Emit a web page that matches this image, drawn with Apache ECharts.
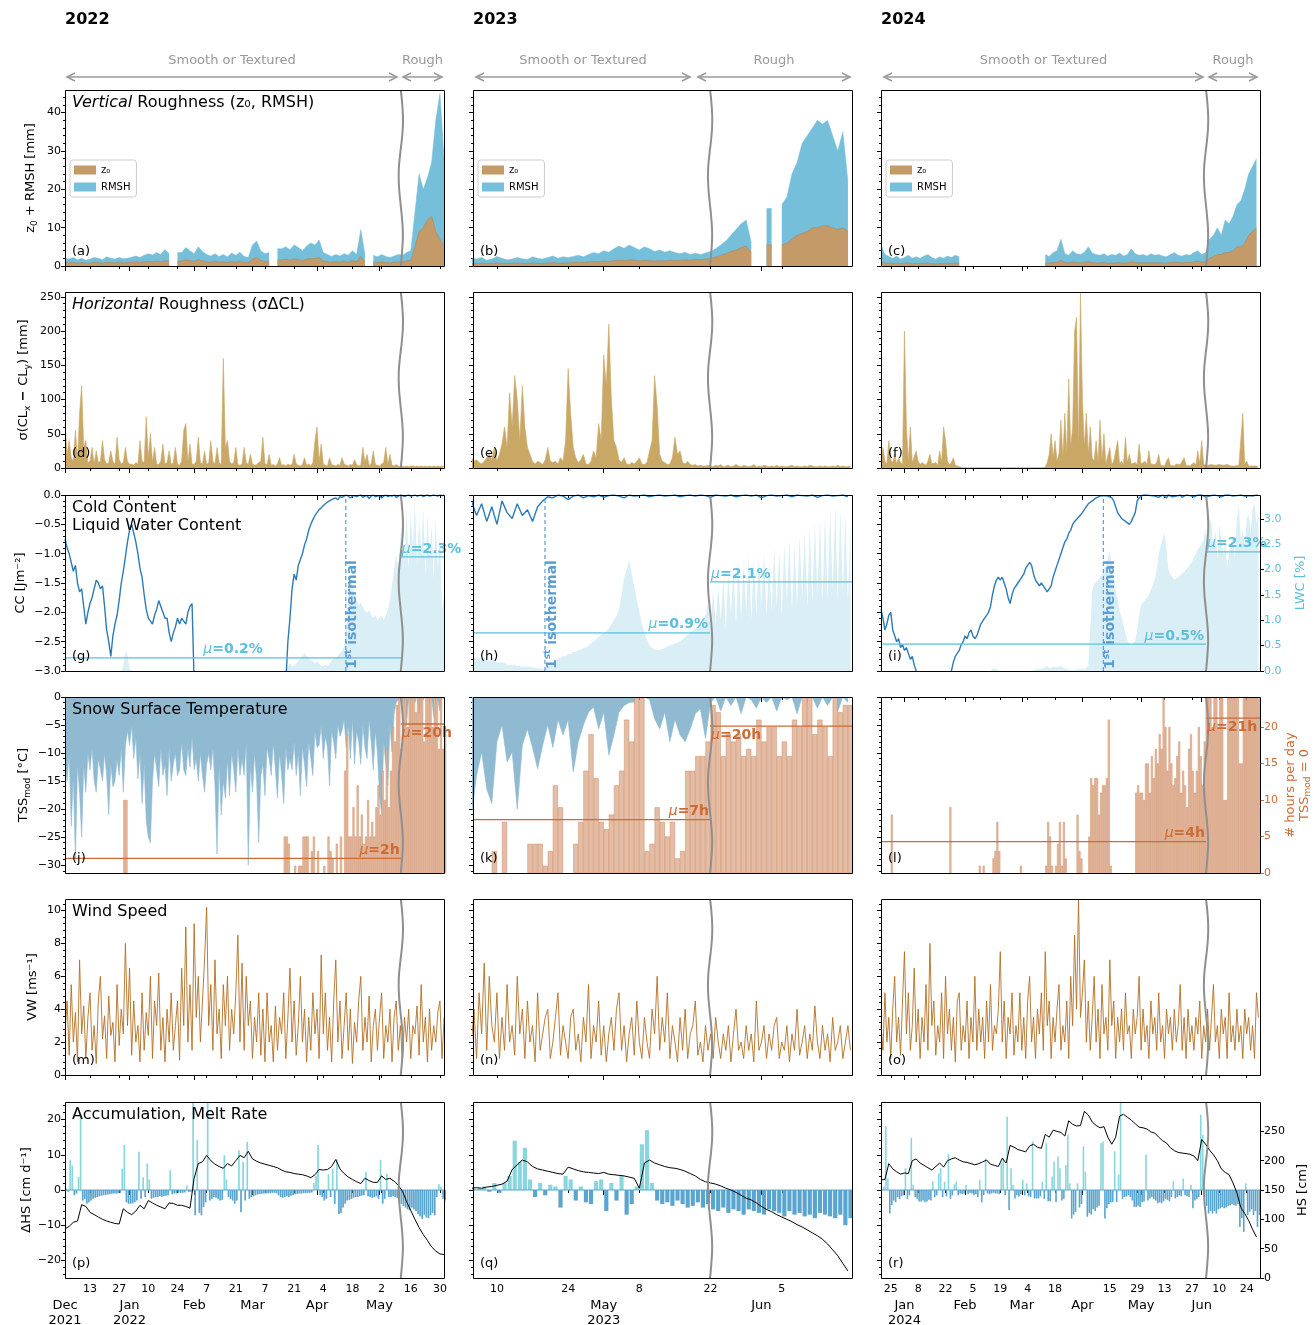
<!DOCTYPE html>
<html><head><meta charset="utf-8">
<script src="https://cdn.jsdelivr.net/npm/echarts@6/dist/echarts.min.js"></script>
<style>html,body{margin:0;padding:0;background:#fff}#c{width:1314px;height:1325px}</style>
</head><body><div id="c"></div>
<script>
// ================= DATA =================
// ---- time axes (day offsets from base dates) ----
const base1='2021-12-01', base2='2023-04-05', base3='2023-12-20';
const dayTicks1=['2021-12-13','2021-12-27','2022-01-10','2022-01-24','2022-02-07','2022-02-21','2022-03-07','2022-03-21','2022-04-04','2022-04-18','2022-05-02','2022-05-16','2022-05-30'];
const monthTicks1=['2021-12-01','2022-01-01','2022-02-01','2022-03-01','2022-04-01','2022-05-01'];
const monthLabels1=['Dec\n2021','Jan\n2022','Feb','Mar','Apr','May'];
const dayTicks2=['2023-04-10','2023-04-24','2023-05-08','2023-05-22','2023-06-05'];
const monthTicks2=['2023-05-01','2023-06-01'];
const monthLabels2=['May\n2023','Jun'];
const dayTicks3=['2023-12-25','2024-01-08','2024-01-22','2024-02-05','2024-02-19','2024-03-04','2024-03-18','2024-04-15','2024-04-29','2024-05-13','2024-05-27','2024-06-10','2024-06-24'];
const monthTicks3=['2024-01-01','2024-02-01','2024-03-01','2024-04-01','2024-05-01','2024-06-01'];
const monthLabels3=['Jan\n2024','Feb','Mar','Apr','May','Jun'];
const regimeDay=[161.2,46.9,166.2];      // Smooth/Textured -> Rough
const isothermDay=[134.8,14.45,113.7];   // 1st isothermal
const yearLabels=['2022','2023','2024'];

// ---- y tick labels ----
const yTicksRough=[0,10,20,30,40];
const yTicksHoriz=[0,50,100,150,200,250];
const yTicksCC=[-3,-2.5,-2,-1.5,-1,-0.5,0];
const yTicksLWC=[0,0.5,1,1.5,2,2.5,3];
const yTicksTSS=[-30,-25,-20,-15,-10,-5,0];
const yTicksHrs=[0,5,10,15,20];
const yTicksVW=[0,2,4,6,8,10];
const yTicksDHS=[-20,-10,0,10,20];
const yTicksHS=[0,50,100,150,200,250];

// ---- 2022 (col 1) ----
const total1=[2.0,1.8,2.2,1.6,2.0,1.5,1.8,2.2,2.0,1.6,2.4,2.0,1.8,2.2,1.9,2.0,2.3,2.6,2.2,2.8,3.2,2.9,3.5,3.0,4.3,3.2,null,3.5,3.5,4.8,4.0,3.2,5.0,3.8,3.0,2.6,3.2,2.5,3.0,2.4,3.4,2.8,3.6,2.5,2.2,5.5,6.5,4.0,3.2,3.5,null,4.5,4.5,5.0,4.2,5.5,4.8,4.0,5.2,6.0,5.5,6.8,3.5,3.0,2.5,3.0,2.6,3.2,2.8,4.0,3.0,9.5,3.0,null,2.8,2.4,3.0,2.5,2.2,2.6,3.0,2.8,3.5,4,14,24,20,23,27,38,45,28];
const z0_1=[0.9,0.8,1.0,0.7,0.9,0.7,0.8,1.0,0.9,0.7,1.0,0.9,0.8,1.0,0.8,0.9,1.0,1.1,0.9,1.1,1.2,1.1,1.3,1.1,1.4,1.2,null,1.2,1.3,1.6,1.4,1.2,1.7,1.4,1.1,1.0,1.2,1.0,1.1,0.9,1.2,1.0,1.3,1.0,0.9,1.8,2.2,1.5,1.2,1.3,null,1.5,1.6,1.8,1.5,1.9,1.7,1.4,1.8,2.0,1.9,2.2,1.3,1.1,1.0,1.1,1.0,1.2,1.0,1.4,1.1,2.5,1.1,null,1.0,0.9,1.1,0.9,0.8,1.0,1.1,1.0,1.3,1.5,5,9,10,12,13,9,7,5];
const sig1=[65,20,40,15,10,55,12,80,120,30,40,8,10,30,6,25,8,10,40,12,6,8,25,10,5,45,12,6,8,30,10,5,6,4,8,6,40,10,8,75,15,50,8,30,6,5,10,35,6,8,25,5,8,30,6,4,10,55,65,8,35,6,5,10,45,8,6,25,5,8,40,10,6,30,8,5,160,30,40,10,6,8,30,5,4,6,30,8,5,20,6,4,5,8,10,45,6,5,20,4,5,3,6,15,4,5,3,6,4,5,20,6,4,3,5,15,4,6,3,8,40,60,10,35,6,4,3,15,5,4,3,5,4,15,6,4,3,5,4,12,5,3,4,30,8,20,4,6,25,5,4,3,6,8,30,5,20,4,3,5,3,2,3,2,3,2,3,3,2,3,2,3,2,3,2,3,2,3,2,3,2,3,2];
const cc1=[-0.75,-0.9,-1.0,-1.15,-1.3,-1.2,-1.5,-1.65,-1.6,-1.9,-2.2,-2.0,-1.85,-1.75,-1.6,-1.45,-1.5,-1.6,-1.55,-1.9,-2.3,-2.5,-2.75,-2.4,-2.2,-2.05,-1.8,-1.5,-1.3,-1.05,-0.8,-0.6,-0.5,-0.65,-0.8,-1.0,-1.25,-1.4,-1.7,-1.95,-2.1,-2.15,-2.2,-2.05,-1.95,-1.8,-1.9,-2.0,-2.1,-2.1,-2.35,-2.5,-2.35,-2.25,-2.1,-2.2,-2.1,-2.15,-2.2,-2.0,-1.9,-1.85,-3.2,null,null,null,null,null,null,null,null,null,null,null,null,null,null,null,null,null,null,null,null,null,null,null,null,null,null,null,null,null,null,null,null,null,null,null,null,null,null,null,null,null,null,null,-3.2,-2.5,-2.1,-1.6,-1.35,-1.45,-1.2,-1.1,-1.0,-0.85,-0.75,-0.6,-0.5,-0.42,-0.35,-0.3,-0.25,-0.22,-0.18,-0.15,-0.12,-0.1,-0.08,-0.06,-0.05,-0.08,-0.03,-0.04,-0.02,0,-0.02,-0.05,-0.02,-0.01,-0.03,-0.01,0,-0.04,-0.02,-0.01,-0.06,-0.02,0,-0.03,-0.02,-0.01,-0.05,-0.02,0,-0.03,-0.01,-0.02,0,-0.04,-0.02,0,-0.01,-0.03,-0.01,0,-0.02,-0.01,0,-0.02,-0.01,0,-0.03,-0.01,0,-0.02,-0.01,0,-0.01,-0.02,0,-0.01,0];
const lwc1=[0,0,0,0,0,0,0,0,0,0,0,0,0,0,0,0,0,0,0,0,0,0,0,0,0,0,0,0,0.1,0.4,0.3,0.05,0,0,0,0,0,0,0,0,0,0,0,0,0,0,0,0,0,0,0,0,0,0,0,0,0,0,0,0,0,0,0,0,0,0,0,0,0,0,0,0,0,0,0,0,0,0,0,0,0,0,0,0,0,0,0,0,0,0,0,0,0,0,0,0,0,0,0,0,0,0,0,0,0,0,0.05,0.1,0.15,0.1,0.1,0.15,0.2,0.25,0.3,0.35,0.3,0.25,0.2,0.2,0.15,0.2,0.15,0.1,0.1,0.12,0.1,0.15,0.2,0.25,0.25,0.3,0.35,0.4,0.5,0.8,1.4,1.9,1.7,1.5,1.4,1.3,1.35,1.25,1.2,1.15,1.2,1.1,1.05,1.1,1.0,1.05,1.1,1.0,1.1,1.2,1.4,1.7,2.0,2.3,2.0,2.6,3.0,2.2,3.2,2.0,3.1,2.4,3.3,2.1,3.0,2.3,3.2,1.9,3.1,2.2,2.9,1.8,3.0,2.0,2.7,1.2,1.5];
const tss1=[-12,-15,-10,-23,-14,-29,-12,-17,-25,-12,-17,-10,-13,-9,-15,-17,-11,-13,-15,-10,-14,-21,-12,-16,-15,-11,-14,-9,-17,-8.6,-6,-8.6,-5,-11,-7,-14.6,-10,-19,-12,-22,-25,-26,-15,-10,-13,-16,-9,-14,-12,-17.6,-9,-15,-12,-10,-14,-13,-8,-13,-14,-9,-12.5,-7,-13,-11,-15,-10,-14,-17,-12,-10,-13,-9,-16,-28,-12,-21,-15,-18,-11,-17.6,-10,-13,-17,-9,-14,-11,-14,-8,-30,-12,-17,-10,-15,-26,-14,-12,-17.6,-9,-11,-14,-8,-13,-18,-10,-14,-19,-9,-13,-11,-13,-8,-14,-10,-17.6,-9,-12,-16,-8,-11,-14,-6,-9,-8.6,-5,-11,-7,-9,-15.8,-6,-8,-11,-5,-7,-6,-4,-9,-5,-11,-4,-12,-6,-8,-12,-5,-9,-11,-4,-8,-13,-6,-10,-17.6,-21,-8,-12,-15.8,-5,-9.8,-3,-1,-0.5,0,-1,-0.3,-4.7,0,-0.5,0,-1,0,-3,0,-0.5,0,0,-1,0,-3.5,0,-0.5,-2.5,0,-0.5];
const hrs1=[0,0,0,0,0,0,0,0,0,0,0,0,0,0,0,0,0,0,0,0,0,0,0,0,0,0,0,0,10,10,0,0,0,0,0,0,0,0,0,0,0,0,0,0,0,0,0,0,0,0,0,0,0,0,0,0,0,0,0,0,0,0,0,0,0,0,0,0,0,0,0,0,0,0,0,0,0,0,0,0,0,0,0,0,0,0,0,0,0,0,0,0,0,0,0,0,0,0,0,0,0,0,0,0,0,5,5,4,0,0,1,0,1,1,5,5,5,0,3,5,0,3,0,0,1,0,5,3,2,0,4,0,5,0,14,19,5,5,9,5,12,5,8,4,5,10,5,7,5,9,12,8,14,10,17,9,14,20,18,23,24,17,24,24,20,24,24,24,22,24,24,24,18,24,24,24,20,24,24,17,24,17,20];
const vw1=[2.5,4.5,1.2,5.5,2.0,3.8,0.8,7.0,2.5,4.2,1.0,3.5,5.0,1.5,3.0,0.7,4.5,6.0,2.2,3.6,1.0,4.8,2.4,3.2,0.8,5.5,1.8,4.0,2.5,8.0,3.0,6.5,1.2,4.5,2.0,3.0,0.8,5.0,1.5,3.8,2.4,6.0,1.0,4.5,3.0,6.2,1.5,3.5,0.8,4.0,2.0,5.0,1.5,3.0,4.5,0.9,6.5,3.0,9.0,2.0,5.5,1.5,9.2,3.5,6.0,2.0,4.5,7.0,10.2,3.0,5.5,1.5,7.0,2.5,4.0,1.0,5.5,3.0,6.0,1.5,4.0,2.5,5.0,8.5,2.0,6.8,1.5,6.0,3.0,4.5,1.0,3.5,2.0,5.0,1.2,4.0,0.8,5.0,2.0,3.0,0.8,4.2,1.5,3.5,2.5,5.0,1.0,3.5,6.5,2.0,4.5,1.2,3.0,6.0,2.0,4.0,0.8,3.5,1.5,5.0,2.5,4.0,1.0,7.3,2.5,5.0,1.5,3.5,0.8,4.5,7.0,2.0,4.5,1.0,3.0,5.0,1.5,4.0,0.7,3.2,2.0,4.5,6.0,1.5,3.5,2.0,4.8,0.8,3.0,4.0,1.5,3.5,5.0,1.0,3.0,2.0,4.0,0.8,3.5,4.5,1.5,3.0,0.8,3.5,2.0,4.0,1.0,3.0,2.5,4.2,1.2,5.5,2.0,3.5,0.8,4.0,1.5,3.0,2.0,3.8,4.5,1.0,3.5];
const dhs1=[0.5,-0.5,8.5,6.9,-1.5,-1.0,3.7,20.9,-3.0,-2.5,-3.9,-3.5,-3.0,-2.5,-2.2,-2.0,-1.8,-1.6,-1.5,-1.4,-1.3,-1.2,-1.1,-1.0,-1.0,-0.9,-0.8,6.1,12.8,-3.5,-3.9,-3.9,-3.8,-3.5,-3.0,10.9,-2.5,3.6,-2.0,7.5,3.0,-2.5,-2.2,-2.0,-2.0,-1.8,-1.9,-1.7,-1.6,-1.5,5.6,-1.2,-1.0,-1.0,-0.9,-0.8,-0.8,-0.7,1.3,-0.6,-0.5,25,-7.2,14.2,-6.5,-7.2,-4.9,-3.5,25,-3.0,-2.5,-2.0,-2.2,-2.5,-3.0,-2.8,9.9,3.0,-2.0,-2.5,-3.0,-3.9,-3.0,11.3,-6.3,8.0,-3.0,13.7,-2.5,-2.0,-1.8,-1.5,-1.3,-1.2,-1.1,-1.0,-1.0,-0.9,-0.9,-0.8,-0.8,-0.9,-1.5,-2.0,-2.2,-2.0,-1.8,-2.0,-1.6,-1.5,-1.2,-1.1,-1.0,-1.0,-0.9,-0.9,-0.8,-0.8,-0.7,2.0,4.0,12.8,-1.5,-2.0,-3.0,-2.5,4.5,-2.0,6.1,-4.0,8.7,-6.8,-6.5,-5.0,-3.9,-3.0,-2.8,-2.5,-2.2,-2.0,-2.0,-1.8,-1.6,-1.5,5.1,-1.8,-2.0,-2.2,-2.0,-1.8,-2.5,8.5,-3.9,-2.5,4.6,-2.0,-2.0,-1.8,-2.0,-2.2,-3.0,-4.0,-4.5,-5.0,-5.5,-5.8,-5.0,-5.5,-6.0,-6.8,-7.5,-8.2,-7.0,-7.8,-8.0,-7.2,-6.5,-7.2,-2.0,1.6,1.0,-2.5,-3.0];
const hs1=[84,88,95,97,125,122,112,108,104,100,97,95,93,92,118,112,108,114,124,118,132,128,124,121,118,128,127,124,124,122,119,170,195,198,209,200,194,190,187,195,191,200,209,205,216,203,199,196,194,192,190,188,184,181,180,178,177,176,174,171,176,185,184,185,190,202,186,178,172,168,164,161,170,166,163,163,174,168,170,165,158,148,130,115,100,86,74,64,53,46,41,40];
const lwcMean1=[0.26,2.25], lwcMeanLab1=['0.2%','2.3%'];
const hrsMean1=[2.0,20.4], hrsMeanLab1=['2h','20h'];

// ---- 2023 (col 2) ----
const total2=[2.0,1.8,2.2,1.5,1.8,2.5,2.0,1.6,1.8,2.2,1.9,1.7,2.4,2.0,1.8,2.2,2.6,2.0,2.4,2.2,2.5,2.8,2.4,3.0,3.5,3.2,4.0,3.6,4.5,5.2,4.6,5.5,4.8,4.2,5.0,4.5,3.8,4.2,3.6,4.0,3.5,3.2,3.6,3.0,3.3,3.0,3.4,3.8,4.5,5.5,6.5,8,9.5,11,12,6,null,null,15,15,null,16,18,24,27,32,34,36,38,37,38,34,30,35,22];
const z0_2=[0.7,0.6,0.8,0.6,0.7,0.8,0.7,0.6,0.7,0.8,0.7,0.6,0.8,0.7,0.6,0.8,0.9,0.7,0.8,0.8,0.9,1.0,0.9,1.1,1.2,1.1,1.3,1.2,1.4,1.5,1.4,1.6,1.5,1.3,1.5,1.4,1.3,1.4,1.3,1.5,1.4,1.5,1.6,1.5,1.7,1.6,1.8,2.0,2.3,2.8,3.2,3.8,4.2,4.8,5.2,3.5,null,null,5.5,5.5,null,5.5,6,7,8,8.5,9,10,10,10.5,10.5,10,9.5,10,9];
const sig2=[15,10,12,8,6,10,15,20,12,30,10,20,35,60,30,110,60,135,100,40,120,60,30,20,10,6,10,8,5,12,30,10,8,10,6,15,10,40,145,80,30,15,8,12,20,6,5,10,25,15,65,40,165,120,210,100,40,30,12,8,15,6,5,8,6,10,15,6,5,8,25,40,135,90,20,10,8,5,6,15,45,20,25,8,6,10,5,4,5,3,4,3,3,4,
3,2,4,3,5,2,3,4,2,3,5,3,2,4,3,2,3,5,2,3,2,4,3,2,3,2,4,2,3,2,2,3,4,2,3,2,2,3,2,4,3,2,2,3,2,3,2,2,3,2,4,2,3,2,2,3];
const cc2=[-0.1,-0.35,-0.15,-0.45,-0.2,-0.5,-0.1,-0.3,-0.4,-0.15,-0.35,-0.25,-0.45,-0.2,-0.1,-0.03,-0.05,0,-0.02,-0.08,-0.02,0,-0.05,-0.01,-0.03,0,-0.04,-0.01,0,-0.02,-0.05,0,-0.02,-0.01,0,-0.03,-0.01,0,-0.02,-0.01,0,-0.03,-0.01,0,-0.02,0,-0.01,-0.04,0,-0.01,-0.02,0,-0.03,-0.01,0,-0.02,0,-0.05,-0.01,0,-0.02,-0.01,0,-0.03,0,-0.01,-0.02,0,-0.04,-0.01,0,-0.02,-0.01,0,-0.03];
const lwc2=[0.35,0.35,0.3,0.3,0.3,0.3,0.25,0.25,0.25,0.25,0.2,0.2,0.2,0.2,0.15,0.15,0.15,0.15,0.12,0.12,0.1,0.1,0.1,0.1,0.08,0.08,0.06,0.06,0.05,0.05,
0.1,0.15,0.2,0.25,0.3,0.3,0.35,0.35,0.4,0.4,0.45,0.45,0.5,0.5,0.55,0.55,0.6,0.65,0.7,0.75,0.8,0.85,0.9,0.95,1.0,1.1,1.2,1.3,1.45,1.8,2.2,2.4,2.6,2.3,2.0,1.7,1.4,1.1,0.9,0.75,0.6,0.55,0.5,0.5,0.5,0.52,0.55,0.58,0.6,0.62,0.65,0.68,0.7,0.75,0.8,0.85,0.9,0.95,1.0,1.05,1.1,1.2,1.3,1.6,
1.0,1.9,1.1,2.0,1.2,2.2,1.0,2.3,1.3,2.4,1.1,2.6,1.2,2.5,1.4,2.7,1.2,2.6,1.3,2.7,1.5,2.8,1.3,2.6,1.4,2.9,1.5,2.8,1.3,3.0,1.6,3.1,1.4,3.0,1.5,3.2,1.7,3.3,1.5,3.4,1.6,3.5,1.8,3.6,1.6,3.7,1.7,3.8,1.9,3.9,1.7,3.8,1.8,3.7,1.6,3.6];
const tss2=[-21,-14,-9.8,-16.4,-19,-8,-5,-11.6,-9.8,-20,-8.6,-5.7,-9,-12.8,-8.6,-5,-9,-4,-6.8,-4,-13.4,-8,-5,-2.7,-1.8,-5.7,-2.7,-10.4,-6.8,-2.7,-1.5,-1,-0.9,0,0,-0.5,-3.9,-5.7,-2.7,-8,-4,-6.8,-8,-5.7,-3,-2.1,-7.4,-1,0,-2.5,0,-1.5,0,-3,0,-0.5,-2,0,-1,0,-2.5,0,-0.5,0,-3,0,-1,0,-2,0,-1.5,0,-2.5,0,-1];
const hrs2=[0,0,0,0,3,0,7,0,0,0,0,4,4,4,1,3,12,9,0,0,4,7,14,19,13,7,6,8,12,14,21,18,24,24,3,4,9,7,5,7,2,3,14,14,16,16,18,23,22,16,19,18,19,16,17,16,21,18,20,20,16,18,16,21,20,24,24,19,21,20,16,24,22,23,23];
const vw2=[2.0,4.0,1.0,5.0,2.5,6.8,1.5,6.0,3.0,2.0,5.0,1.0,3.5,1.5,5.5,2.0,3.0,1.2,6.0,2.5,4.0,1.0,4.5,2.0,3.0,0.8,5.0,1.5,2.5,3.5,4.0,1.0,2.0,3.5,5.0,1.2,3.0,2.0,1.0,3.5,4.0,1.5,2.5,0.8,3.5,2.0,5.5,1.0,3.0,2.0,4.5,1.2,3.0,0.8,2.5,3.5,1.5,4.0,5.0,1.5,3.0,0.8,2.5,3.5,1.2,4.5,2.0,1.0,3.5,2.0,1.0,4.0,2.5,6.0,1.5,3.5,2.0,5.0,1.0,3.0,2.0,0.8,3.5,1.5,4.0,1.0,2.5,3.0,4.5,1.2,2.0,0.8,3.0,1.5,2.5,1.0,3.5,2.0,1.0,2.5,1.5,3.0,0.8,2.5,4.0,1.5,2.0,1.0,3.0,1.5,2.5,0.8,4.5,1.5,2.0,3.0,1.0,2.5,1.5,3.0,3.5,1.0,2.0,1.5,3.0,0.8,2.5,1.5,4.0,1.2,2.0,3.0,1.0,2.5,1.5,4.2,2.0,1.0,3.0,1.5,2.5,0.8,3.5,1.5,2.0,3.0,1.0,2.0,3.0,1.5];
const dhs2=[0.3,0.5,1.0,-0.5,2.0,-0.8,2.0,4.0,14.0,8.0,12.0,3.0,-2.0,2.0,-1.5,1.5,1.0,-5.0,4.0,3.0,-3.0,1.0,-3.5,-4.0,2.5,3.0,-6.0,2.0,-3.0,4.0,-7.0,-4.0,1.0,13.0,17.0,2.0,-3.0,-4.0,-3.5,-4.5,-3.0,-4.0,-5.0,-4.5,-3.5,-5.0,-4.0,-5.5,-6.0,-5.0,-6.5,-5.5,-6.0,-7.0,-5.5,-6.0,-6.5,-7.0,-5.5,-6.0,-6.5,-7.5,-6.0,-7.0,-6.5,-7.5,-7.0,-8.0,-6.5,-7.0,-7.5,-8.0,-7.0,-10.0,-8.0];
const hs2=[153,154,153,155,156,158,160,165,185,193,201,198,190,186,184,182,180,178,177,189,186,183,181,180,179,178,180,177,176,175,174,172,170,153,196,201,196,193,190,188,187,185,182,178,174,168,164,162,160,157,153,150,146,141,136,133,128,122,117,113,108,104,100,96,91,87,82,77,72,66,58,48,38,25,12];
const lwcMean2=[0.9,2.1], lwcMeanLab2=['0.9%','2.1%'];
const hrsMean2=[7.3,20.1], hrsMeanLab2=['7h','20h'];

// ---- 2024 (col 3) ----
const total3=[5.5,3.0,2.5,2.0,2.6,1.8,2.2,2.8,2.0,2.4,2.0,2.6,3.0,2.2,1.8,2.4,2.0,2.6,2.2,2.8,2.4,null,null,null,null,null,null,null,null,null,null,null,null,null,null,null,null,null,null,null,null,null,3.0,2.5,3.5,4.0,7.0,3.2,2.8,4.0,3.2,3.0,3.6,5.0,3.4,3.0,2.8,3.2,2.6,3.0,2.8,3.4,2.6,3.0,4.5,3.2,2.8,3.0,2.6,3.2,2.8,3.0,2.6,2.4,3.0,3.5,2.8,2.6,3.0,2.8,3.5,4.0,3.0,3.5,7,8,10,8,12,11,13,16,17,20,24,26,28];
const z0_3=[1.0,0.8,0.7,0.6,0.8,0.6,0.7,0.8,0.6,0.7,0.6,0.7,0.8,0.6,0.5,0.7,0.6,0.7,0.6,0.8,0.7,null,null,null,null,null,null,null,null,null,null,null,null,null,null,null,null,null,null,null,null,null,0.8,0.7,0.9,1.0,1.5,0.9,0.8,1.0,0.9,0.8,1.0,1.2,0.9,0.8,0.8,0.9,0.7,0.8,0.8,0.9,0.7,0.8,1.1,0.9,0.8,0.9,0.8,0.9,0.8,0.9,0.8,0.7,0.9,1.0,0.9,0.8,1.0,0.9,1.1,1.3,1.0,1.2,2,2.5,3,3,3.5,3.5,4,5,5,6,8,9,10];
const sig3=[8,30,10,6,40,12,8,20,6,15,8,5,200,60,10,60,8,6,25,10,5,8,6,4,10,20,6,5,8,4,25,8,60,40,10,5,8,15,4,3,2,1,0.5,0.5,0.5,0.5,0.5,0.5,0.5,0.5,0.5,0.5,0.5,0.5,0.5,0.5,0.5,0.5,0.5,0.5,0.5,0.5,0.5,0.5,0.5,0.5,0.5,0.5,0.5,0.5,0.5,0.5,0.5,0.5,0.5,0.5,0.5,0.5,0.5,0.5,0.5,0.5,0.5,0.5,1,8,20,50,15,40,10,20,70,15,80,20,130,30,60,200,220,30,255,100,30,80,20,60,15,10,40,8,70,10,50,6,8,30,5,10,8,40,6,10,5,45,8,20,6,5,8,5,35,6,4,10,5,25,6,4,5,8,20,4,6,3,10,15,4,5,3,6,4,5,3,15,4,6,3,5,8,4,25,6,40,5,3,4,3,5,3,4,3,5,3,4,3,5,4,3,4,3,5,4,6,80,5,10,3,4,3,4,3,3];
const cc3=[-1.95,-2.1,-2.3,-2.2,-2.05,-2.0,-2.3,-2.4,-2.5,-2.45,-2.6,-2.55,-2.65,-2.6,-2.7,-2.8,-2.75,-2.9,-3.0,-3.2,null,null,null,null,null,null,null,null,null,null,null,null,null,null,null,-3.2,-3.0,-2.85,-2.75,-2.7,-2.65,-2.55,-2.5,-2.4,-2.45,-2.35,-2.3,-2.4,-2.45,-2.4,-2.3,-2.2,-2.15,-2.1,-2.05,-2.0,-1.9,-1.7,-1.55,-1.45,-1.4,-1.45,-1.4,-1.5,-1.6,-1.75,-1.85,-1.7,-1.6,-1.55,-1.5,-1.45,-1.4,-1.35,-1.25,-1.2,-1.15,-1.2,-1.35,-1.45,-1.5,-1.55,-1.5,-1.55,-1.6,-1.65,-1.65,-1.55,-1.4,-1.3,-1.2,-1.1,-1.0,-0.9,-0.8,-0.75,-0.65,-0.6,-0.5,-0.45,-0.42,-0.38,-0.35,-0.3,-0.25,-0.2,-0.15,-0.12,-0.1,-0.07,-0.05,-0.04,-0.02,0,-0.01,0,-0.02,0,-0.05,-0.1,-0.2,-0.3,-0.32,-0.4,-0.38,-0.45,-0.42,-0.5,-0.45,-0.48,-0.3,-0.1,-0.05,-0.02,0,-0.01,0,-0.03,-0.01,0,-0.02,0,-0.04,-0.01,0,-0.02,-0.05,0,-0.01,-0.03,0,-0.02,-0.01,0,-0.04,-0.01,0,-0.02,-0.01,0,-0.03,-0.01,0,-0.02,0,-0.01,-0.03,0,-0.02,-0.01,0,-0.02,-0.01,0,-0.03,-0.01,0,-0.02,0,-0.01,-0.02,0,-0.01,-0.03,0,-0.01,-0.02,0,-0.01,0,-0.02,-0.01,0,-0.01];
const lwc3=[0,0,0,0,0,0,0,0,0,0,0,0,0,0,0,0,0,0,0,0,0,0,0,0,0,0,0,0,0,0,0,0,0,0,0,0,0,0,0,0,0,0,0,0,0,0,0,0,0,0,0,0,0,0,0,0,0,0.05,0.05,0.04,0.03,0,0,0,0,0,0,0,0,0,0,0,0,0,0,0,0,0,0.02,0.03,0.05,0.04,0.06,0.05,0.08,0.1,0.06,0.05,0.08,0.1,0.08,0.06,0.1,0.08,0.05,0.04,0.03,0.02,0.02,0.03,0.03,0.02,0.04,0.05,0.03,0.05,0.1,0.8,1.6,1.7,1.75,1.8,1.85,1.9,2.0,2.1,2.25,2.35,2.1,1.9,1.6,1.4,1.2,1.05,0.9,0.75,0.6,0.55,0.5,0.55,0.6,0.8,1.1,1.3,1.35,1.4,1.45,1.5,1.6,1.7,1.8,2.0,2.3,2.45,2.6,2.72,2.4,2.0,1.9,1.85,1.8,1.8,1.85,1.9,1.9,1.95,2.0,2.05,2.1,2.15,2.25,2.3,2.4,2.45,2.5,2.6,2.8,2.5,3.0,2.9,2.4,2.8,2.2,2.9,2.6,2.3,2.5,2.06,2.3,2.5,2.65,2.2,3.0,3.24,2.6,2.8,2.4,3.0,3.1,2.7,3.2,3.3,2.9,3.1];
const hrs3=[0,0,0,0,0,8,0,0,0,0,0,0,0,0,0,0,0,0,0,0,0,0,0,0,0,0,0,0,0,0,0,0,0,0,0,9,0,0,0,0,0,0,0,0,0,0,0,0,0,0,1,0,1,0,0,0,0,2,3,7,3,0,0,0,0,0,0,0,0,0,0,1,0,0,0,0,0,0,0,0,0,0,0,0,1,7,5,1,0,1,4,7,1,7,2,0,0,0,0,0,8,3,2,0,0,0,5,13,12,13,13,8,11,12,12,13,21,1,0,0,0,0,0,0,0,0,0,0,0,0,11,12,11,11,10,15,15,11,16,13,17,15,19,17,24,20,14,20,15,12,13,16,18,11,14,12,9,17,19,14,11,14,20,16,12,18,24,24,24,20,24,24,20,24,24,10,10,24,24,24,24,24,24,15,15,24,24,24,24,24,24,24,24,24];
const vw3=[3.0,1.5,5.0,2.0,3.5,1.0,4.0,6.0,2.0,3.5,1.2,4.5,7.5,2.5,5.0,1.5,3.0,6.5,2.0,4.0,1.0,3.5,2.0,5.5,1.5,8.0,3.0,4.5,1.2,3.0,2.0,5.0,1.0,6.0,2.5,4.0,1.5,3.5,0.8,4.5,5.0,1.5,3.0,2.0,4.5,1.0,3.5,2.0,6.0,1.5,4.0,2.0,3.5,1.0,4.5,2.0,5.5,1.5,3.0,2.5,4.0,7.5,2.0,4.5,1.0,3.5,2.5,5.0,1.2,3.0,2.0,5.0,1.5,3.5,1.0,4.5,6.0,2.0,3.5,1.0,4.0,2.5,5.0,1.5,7.5,3.0,4.5,1.0,3.5,2.0,4.0,5.5,1.5,3.0,2.0,4.5,1.0,6.0,3.0,8.5,4.0,10.7,3.5,5.0,7.0,2.0,4.5,1.5,3.5,6.0,2.0,4.0,1.0,5.5,2.5,3.5,1.5,7.0,3.0,4.5,1.0,3.5,2.0,4.0,1.5,5.0,2.5,3.0,1.0,4.0,2.5,3.5,6.0,1.5,4.0,2.0,3.0,1.0,4.5,2.5,3.5,1.5,5.0,2.0,3.0,1.0,4.0,2.5,3.5,1.5,4.0,2.0,3.0,5.5,1.5,3.5,1.0,4.0,2.0,3.0,1.5,3.5,2.5,4.5,1.0,3.0,2.0,4.0,1.5,3.5,5.5,2.0,3.0,1.0,4.0,2.5,3.5,1.0,5.0,2.0,3.0,1.5,4.0,2.0,3.0,1.0,4.0,2.5,3.5,1.5,3.0,1.0,5.0,3.5];
const dhs3=[0.5,1.0,18.1,3.3,-6.7,-4.3,-3.0,-3.5,-2.0,-2.5,-1.8,-1.5,6.2,-2.5,-1.5,14.8,1.5,-2.0,-2.5,-3.3,-3.3,-3.0,-3.5,-3.3,-2.8,-3.0,2.5,-2.0,-1.5,4.7,6.2,-2.0,2.4,-1.8,10.2,-2.5,-1.5,1.6,2.4,-1.5,-1.0,-1.2,-1.0,1.4,-1.2,-0.8,-1.0,-1.5,-1.2,-2.0,2.9,-3.5,-1.5,9.0,-1.0,-1.2,-1.0,-0.8,-1.0,-1.0,-1.2,7.6,9.0,-1.5,20.9,-5.7,6.2,1.4,-2.4,-1.5,-1.9,-1.2,2.9,-1.5,1.9,-1.8,-2.0,13.8,-2.4,-2.4,-2.4,-1.8,2.4,-2.5,13.3,-3.2,-3.2,3.8,8.1,-3.4,9.5,6.2,-3.0,-2.5,7.1,15.7,1.9,-8.1,-7.0,-6.2,1.9,-5.0,-4.0,12.4,5.2,-7.6,-6.5,-7.0,-5.5,-6.0,-5.0,-4.5,13.3,13.8,-8.1,-5.2,-4.0,-3.5,-3.4,11.0,-3.4,4.4,25.0,-2.5,-2.0,-1.9,-1.5,-2.0,-3.0,-4.8,-4.8,-4.5,-4.8,-3.5,-3.3,10.0,-3.0,-2.4,-2.0,-2.5,-3.0,-3.8,-3.5,-3.8,-3.2,-2.5,-2.8,-3.2,-2.0,2.5,-2.4,-2.0,-1.5,-1.8,3.3,-1.4,-1.8,-2.0,1.4,-5.2,-3.0,-2.5,-2.0,21.4,15.7,-1.9,-4.5,-6.7,-6.0,-6.7,-6.0,-6.7,-5.5,-5.2,-4.8,-5.2,-5.0,-4.5,-4.3,-4.0,-4.3,-4.5,-4.0,-10.5,-8.0,-11.9,1.9,-7.1,-6.2,-5.5,-7.1,-6.0,-10.5,-7.1];
const hs3=[167,168,195,186,181,177,179,178,200,203,196,192,188,184,190,196,189,200,203,205,201,198,197,195,193,195,198,201,194,192,190,204,196,226,223,219,217,215,225,228,223,221,245,240,252,250,248,242,268,262,259,260,284,278,266,260,256,258,240,228,240,276,279,274,269,263,257,256,254,249,247,240,234,230,222,217,214,213,212,211,208,200,236,228,218,210,200,186,180,176,162,145,120,110,98,83,70];
const lwcMean3=[0.53,2.35], lwcMeanLab3=['0.5%','2.3%'];
const hrsMean3=[4.3,21.2], hrsMeanLab3=['4h','21h'];

// ================= STYLE / LAYOUT =================
const FONT='DejaVu Sans';
const C_RMSH='#76bfdb', C_Z0='#c49a68', C_SIG='#c9a865', C_CC='#2c7bb6', C_LWC='#d9eef5', C_LWCM='#5bbfdd',
      C_TSS='#8fbad2', C_HRS='#e4bda6', C_HRSE='#cf8a60', C_HRSM='#cd6b35', C_VW='#b36f22',
      C_POS='#8ad6de', C_NEG='#5aa5cf', C_ISO='#5a9bd2', C_WAVE='#8f8f8f', C_ARROW='#9a9a9a';
const W=379, H=176;
const LEFTS=[65,473,881];
const TOPS=[90,292,495,697,899,1102];
const XMIN=[0,0.3,0], XMAX=[181.95,74.8,193.8];
const BASES=[base1,base2,base3];
const DAYT=[dayTicks1,dayTicks2,dayTicks3], MONT=[monthTicks1,monthTicks2,monthTicks3], MONL=[monthLabels1,monthLabels2,monthLabels3];
const D={
  total:[[total1,2],[total2,1],[total3,2]], z0:[[z0_1,2],[z0_2,1],[z0_3,2]], sig:[[sig1,1],[sig2,0.5],[sig3,1]],
  cc:[cc1,cc2,cc3], lwc:[[lwc1,1],[lwc2,0.5],[lwc3,1]], tss:[tss1,tss2,null], hrs:[hrs1,hrs2,hrs3],
  vw:[[vw1,1],[vw2,0.5],[vw3,1]], dhs:[dhs1,dhs2,dhs3], hs:[[hs1,2],[hs2,1],[hs3,2]],
  lwcM:[lwcMean1,lwcMean2,lwcMean3], lwcL:[lwcMeanLab1,lwcMeanLab2,lwcMeanLab3],
  hrsM:[hrsMean1,hrsMean2,hrsMean3], hrsL:[hrsMeanLab1,hrsMeanLab2,hrsMeanLab3]
};
const LWCMAX=[3.47,4.15,3.47];

function dayOf(base,s){return (Date.parse(s+'T00:00:00Z')-Date.parse(base+'T00:00:00Z'))/864e5;}
function pts(arr,step,off){const o=[];for(let i=0;i<arr.length;i++)o.push([off+i*step,arr[i]]);return o;}
function fmtNum(dec){return v=>(v<0?'\u2212':'')+Math.abs(v).toFixed(dec);}
function minors(min,max,step){const o=[];const s=Math.ceil(min/step-1e-9);for(let k=s;k*step<=max+1e-9;k++)o.push(+(k*step).toFixed(4));return o;}

const ROWCFG=[
 {min:0,max:45.9,ticks:yTicksRough,minor:2,dec:0,name:'{n|z}{s|0}{n| + RMSH [mm]}',gap:26},
 {min:0,max:257,ticks:yTicksHoriz,minor:10,dec:0,name:'{n|\u03c3(CL}{s|x}{b| \u2212 }{n|CL}{s|y}{n|) [mm]}',gap:33},
 {min:-3,max:0,ticks:yTicksCC,minor:0.1,dec:1,name:'{n|CC [Jm\u207b\u00b2]}',gap:38},
 {min:-31.4,max:0,ticks:yTicksTSS,minor:1,dec:0,name:'{n|TSS}{s|mod}{n| [\u00b0C]}',gap:33},
 {min:0,max:10.7,ticks:yTicksVW,minor:0.4,dec:0,name:'{n|VW [ms\u207b\u00b9]}',gap:26},
 {min:-25,max:25,ticks:yTicksDHS,minor:2,dec:0,name:'{n|\u0394HS [cm d\u207b\u00b9]}',gap:32}
];
const RICH={n:{fontSize:13,fontFamily:FONT,color:'#000'},s:{fontSize:9,fontFamily:FONT,color:'#000',padding:[7,0,0,0]},b:{fontSize:13,fontFamily:FONT,color:'#000',fontWeight:'bold'}};

const grid=[],xAxis=[],yAxis=[],series=[],legend=[];
const AX={};
for(let r=0;r<6;r++)for(let c=0;c<3;c++){
  const g=r*3+c;
  grid.push({left:LEFTS[c],top:TOPS[r],width:W,height:H,containLabel:false,outerBoundsMode:'none',show:false});
  const base=BASES[c];
  const dT=DAYT[c].map(s=>dayOf(base,s)), mT=MONT[c].map(s=>dayOf(base,s));
  const mL=MONL[c];
  const xa=xAxis.length;
  xAxis.push({type:'value',gridIndex:g,min:XMIN[c],max:XMAX[c],position:'bottom',
    axisLine:{show:false},splitLine:{show:false},
    axisTick:{show:true,customValues:dT,length:3,lineStyle:{color:'#000',width:1}},
    axisLabel:{show:r===5,customValues:dT,fontSize:11,fontFamily:FONT,color:'#000',margin:6,
      formatter:v=>String(new Date(Date.parse(base+'T00:00:00Z')+Math.round(v)*864e5).getUTCDate())}});
  xAxis.push({type:'value',gridIndex:g,min:XMIN[c],max:XMAX[c],position:'bottom',
    axisLine:{show:false},splitLine:{show:false},
    axisTick:{show:true,customValues:mT,length:5,lineStyle:{color:'#000',width:1}},
    axisLabel:{show:r===5,customValues:mT,fontSize:13,fontFamily:FONT,color:'#000',margin:20,lineHeight:15,
      formatter:v=>{const i=mT.findIndex(m=>Math.abs(m-v)<0.01);return i>=0?mL[i]:'';}}});
  const rc=ROWCFG[r];
  const L=yAxis.length;
  yAxis.push({type:'value',gridIndex:g,min:rc.min,max:rc.max,position:'left',
    axisLine:{show:false},splitLine:{show:false},
    axisTick:{show:true,customValues:rc.ticks,length:4,lineStyle:{color:'#000'}},
    axisLabel:{show:c===0,customValues:rc.ticks,formatter:fmtNum(rc.dec),fontSize:11,fontFamily:FONT,color:'#000',margin:4},
    name:c===0?rc.name:'',nameLocation:'middle',nameRotate:90,nameGap:rc.gap,nameTextStyle:{rich:RICH}});
  yAxis.push({type:'value',gridIndex:g,min:rc.min,max:rc.max,position:'left',
    axisLine:{show:false},splitLine:{show:false},axisLabel:{show:false},
    axisTick:{show:true,customValues:minors(rc.min,rc.max,rc.minor),length:2,lineStyle:{color:'#000'}}});
  let R=null;
  if(r===2){R=yAxis.length;yAxis.push({type:'value',gridIndex:g,min:0,max:LWCMAX[c],position:'right',
    axisLine:{show:false},splitLine:{show:false},
    axisTick:{show:c===2,customValues:yTicksLWC,length:4,lineStyle:{color:'#000'}},
    axisLabel:{show:c===2,customValues:yTicksLWC,formatter:fmtNum(1),fontSize:11,fontFamily:FONT,color:C_LWCM,margin:4},
    name:c===2?'LWC [%]':'',nameLocation:'middle',nameRotate:90,nameGap:34,nameTextStyle:{fontSize:13,fontFamily:FONT,color:C_LWCM}});}
  if(r===3){R=yAxis.length;yAxis.push({type:'value',gridIndex:g,min:0,max:24.1,position:'right',
    axisLine:{show:false},splitLine:{show:false},
    axisTick:{show:c===2,customValues:yTicksHrs,length:4,lineStyle:{color:C_HRSM}},
    axisLabel:{show:c===2,customValues:yTicksHrs,formatter:fmtNum(0),fontSize:11,fontFamily:FONT,color:C_HRSM,margin:4},
    name:c===2?'{n|# hours per day}\n{n|TSS}{s|mod}{n| = 0}':'',nameLocation:'middle',nameRotate:90,nameGap:24,
    nameTextStyle:{lineHeight:14,rich:{n:{fontSize:13,fontFamily:FONT,color:C_HRSM},s:{fontSize:9,fontFamily:FONT,color:C_HRSM,padding:[6,0,0,0]}}}});}
  if(r===5){R=yAxis.length;yAxis.push({type:'value',gridIndex:g,min:0,max:300,position:'right',
    axisLine:{show:false},splitLine:{show:false},
    axisTick:{show:c===2,customValues:yTicksHS,length:4,lineStyle:{color:'#000'}},
    axisLabel:{show:c===2,customValues:yTicksHS,formatter:fmtNum(0),fontSize:11,fontFamily:FONT,color:'#000',margin:4},
    name:c===2?'HS [cm]':'',nameLocation:'middle',nameRotate:90,nameGap:36,nameTextStyle:{fontSize:13,fontFamily:FONT,color:'#000'}});}
  AX[g]={xa,L,R};

  const pxDay=W/(XMAX[c]-XMIN[c]);
  const line=(yi,data,color,extra)=>Object.assign({type:'line',xAxisIndex:xa,yAxisIndex:yi,data,symbol:'none',showSymbol:false,
      animation:false,silent:true,connectNulls:false,lineStyle:{color,width:1},itemStyle:{color}},extra||{});
  if(r===0){
    const [t,ts]=D.total[c],[z,zs]=D.z0[c];
    series.push(line(L,pts(t,ts,0),C_RMSH,{name:'RMSH',lineStyle:{color:C_RMSH,width:0.5},areaStyle:{color:C_RMSH,opacity:1},z:2}));
    series.push(line(L,pts(z,zs,0),C_Z0,{name:'z\u2080',lineStyle:{color:'#b08050',width:0.5},areaStyle:{color:C_Z0,opacity:1},z:3}));
    legend.push({data:['z\u2080','RMSH'],left:LEFTS[c]+5,top:TOPS[r]+70,orient:'vertical',icon:'rect',itemWidth:22,itemHeight:9,itemGap:7,
      textStyle:{fontSize:10,fontFamily:FONT,color:'#000'},borderColor:'#cccccc',borderWidth:1,borderRadius:3,padding:[5,6,5,4],backgroundColor:'rgba(255,255,255,0.85)',selectedMode:false});
  }
  if(r===1){
    const [s,ss]=D.sig[c];
    series.push(line(L,pts(s,ss,0),C_SIG,{lineStyle:{color:C_SIG,width:0.6},areaStyle:{color:C_SIG,opacity:1}}));
  }
  if(r===2){
    const [lw,ls]=D.lwc[c];
    series.push(line(R,pts(lw,ls,0),C_LWC,{lineStyle:{width:0,color:C_LWC},areaStyle:{color:C_LWC,opacity:1},z:1}));
    series.push(line(L,pts(D.cc[c],1,0),C_CC,{lineStyle:{color:C_CC,width:1.4},z:3}));
    const m=D.lwcM[c];
    series.push(line(R,[[XMIN[c],m[0]],[regimeDay[c],m[0]]],C_LWCM,{lineStyle:{color:C_LWCM,width:1.3},z:4}));
    series.push(line(R,[[regimeDay[c],m[1]],[XMAX[c],m[1]]],C_LWCM,{lineStyle:{color:C_LWCM,width:1.3},z:4}));
    series.push(line(L,[[isothermDay[c],-3],[isothermDay[c],0]],C_ISO,{lineStyle:{color:C_ISO,width:1.2,type:[4,3]},z:4}));
  }
  if(r===3){
    if(D.tss[c]) series.push(line(L,pts(D.tss[c],1,0),C_TSS,{lineStyle:{color:C_TSS,width:0.6},areaStyle:{color:C_TSS,opacity:1,origin:'end'},z:1}));
    series.push({type:'bar',xAxisIndex:xa,yAxisIndex:R,data:pts(D.hrs[c],1,0.5).map(p=>[p[0],p[1]===0?'-':p[1]]),
      barWidth:pxDay,animation:false,silent:true,itemStyle:{color:C_HRS,borderColor:C_HRSE,borderWidth:0.5},z:2});
    const m=D.hrsM[c];
    series.push(line(R,[[XMIN[c],m[0]],[regimeDay[c],m[0]]],C_HRSM,{lineStyle:{color:C_HRSM,width:1.3},z:4}));
    series.push(line(R,[[regimeDay[c],m[1]],[XMAX[c],m[1]]],C_HRSM,{lineStyle:{color:C_HRSM,width:1.3},z:4}));
  }
  if(r===4){
    const [v,vs]=D.vw[c];
    series.push(line(L,pts(v,vs,0),C_VW,{lineStyle:{color:C_VW,width:0.9}}));
  }
  if(r===5){
    series.push({type:'bar',xAxisIndex:xa,yAxisIndex:L,animation:false,silent:true,barWidth:Math.max(1.5,pxDay*0.82),
      data:pts(D.dhs[c],1,0.5).map(p=>({value:p,itemStyle:{color:p[1]>=0?C_POS:C_NEG}})),z:2});
    series.push(line(L,[[XMIN[c],0],[XMAX[c],0]],C_NEG,{lineStyle:{color:C_NEG,width:1.2},z:3}));
    const [h,hsS]=D.hs[c];
    series.push(line(R,pts(h,hsS,0),'#000',{lineStyle:{color:'#000',width:1},z:4}));
  }
}

const chart=echarts.init(document.getElementById('c'),null,{renderer:'canvas'});
chart.setOption({animation:false,grid,xAxis,yAxis,series,legend,textStyle:{fontFamily:FONT}});

// ================= ANNOTATIONS =================
const G=[];
const TXT=(x,y,text,style,extra)=>G.push(Object.assign({type:'text',x,y,z:60,silent:true,style:Object.assign({text,fontFamily:FONT,fontSize:13,fill:'#000'},style)},extra||{}));
const letters='abcdefghijklmnopqr';
const titles=['{i|Vertical}{n| Roughness (z\u2080, RMSH)}','{i|Horizontal}{n| Roughness (\u03c3\u0394CL)}','{n|Cold Content}\n{n|Liquid Water Content}','{n|Snow Surface Temperature}','{n|Wind Speed}','{n|Accumulation, Melt Rate}'];
const TR={i:{fontStyle:'italic',fontSize:16,fontFamily:FONT,fill:'#000'},n:{fontSize:16,fontFamily:FONT,fill:'#000'}};
const px=(g,yi,x,y)=>chart.convertToPixel({xAxisIndex:AX[g].xa,yAxisIndex:yi},[x,y]);
for(let r=0;r<6;r++)for(let c=0;c<3;c++){
  const g=r*3+c, L0=LEFTS[c], T0=TOPS[r];
  const wx=px(g,AX[g].L,regimeDay[c],0)[0];
  const wp=[];const offs=[0,1.6,2.2,1.2,-0.6,-2,-1.8,-0.4,1.2,2.1,1.4,0];
  for(let k=0;k<offs.length;k++)wp.push([wx+offs[k],T0+k*H/(offs.length-1)]);
  G.push({type:'polyline',z:55,silent:true,shape:{points:wp,smooth:0.5},style:{stroke:C_WAVE,lineWidth:2,fill:null}});
  G.push({type:'rect',z:70,silent:true,shape:{x:L0+0.5,y:T0+0.5,width:W,height:H},style:{fill:null,stroke:'#000',lineWidth:1}});
  TXT(L0+7,T0+H-14,'('+letters[g]+')',{fontSize:13,verticalAlign:'middle'});
  if(c===0) TXT(L0+7,T0+4,titles[r],{rich:TR,fontSize:16,verticalAlign:'top',lineHeight:18});
  if(r===2){
    const ip=px(g,AX[g].L,isothermDay[c],-3);
    TXT(ip[0]+7,ip[1]-2,'{b|1}{s|st}{b| isothermal}',{rich:{b:{fontSize:14,fontWeight:'bold',fontFamily:FONT,fill:C_ISO},s:{fontSize:9,fontWeight:'bold',fontFamily:FONT,fill:C_ISO,padding:[0,0,8,0]}},align:'left',verticalAlign:'middle'},{rotation:Math.PI/2});
    const m=D.lwcM[c], lb=D.lwcL[c];
    const muR={m:{fontStyle:'italic',fontSize:14,fontFamily:FONT,fill:C_LWCM},b:{fontWeight:'bold',fontSize:14,fontFamily:FONT,fill:C_LWCM}};
    const p1=px(g,AX[g].R,c===0?80.7:regimeDay[c],m[0]);
    TXT(p1[0]-(c===0?0:2),p1[1]-1,'{m|\u03bc}{b|='+lb[0]+'}',{rich:muR,align:c===0?'center':'right',verticalAlign:'bottom'});
    const p2=px(g,AX[g].R,regimeDay[c],m[1]);
    TXT(p2[0]+1,p2[1]-1,'{m|\u03bc}{b|='+lb[1]+'}',{rich:muR,align:'left',verticalAlign:'bottom'});
  }
  if(r===3){
    const m=D.hrsM[c], lb=D.hrsL[c];
    const muR={m:{fontStyle:'italic',fontSize:14,fontFamily:FONT,fill:C_HRSM},b:{fontWeight:'bold',fontSize:14,fontFamily:FONT,fill:C_HRSM}};
    const p1=px(g,AX[g].R,regimeDay[c],m[0]);
    TXT(p1[0]-1,p1[1]-1,'{m|\u03bc}{b|='+lb[0]+'}',{rich:muR,align:'right',verticalAlign:'bottom'});
    const p2=px(g,AX[g].R,regimeDay[c],m[1]);
    TXT(p2[0]+1,p2[1]+2,'{m|\u03bc}{b|='+lb[1]+'}',{rich:muR,align:'left',verticalAlign:'top'});
  }
}
const arrowSpans=[[[2,332],[338,377]],[[3,217],[225,377]],[[3,322],[328,376]]];
for(let c=0;c<3;c++){
  TXT(LEFTS[c],20,yearLabels[c],{fontSize:16,fontWeight:'bold',verticalAlign:'middle'});
  const names=['Smooth or Textured','Rough'];
  arrowSpans[c].forEach((sp,k)=>{
    const x0=LEFTS[c]+sp[0], x1=LEFTS[c]+sp[1], y=77;
    G.push({type:'line',z:60,silent:true,shape:{x1:x0,y1:y,x2:x1,y2:y},style:{stroke:C_ARROW,lineWidth:1.6}});
    G.push({type:'polyline',z:60,silent:true,shape:{points:[[x0+8,y-4],[x0,y],[x0+8,y+4]]},style:{stroke:C_ARROW,lineWidth:1.6,fill:null}});
    G.push({type:'polyline',z:60,silent:true,shape:{points:[[x1-8,y-4],[x1,y],[x1-8,y+4]]},style:{stroke:C_ARROW,lineWidth:1.6,fill:null}});
    TXT((x0+x1)/2,61,names[k],{fontSize:13,fill:'#999999',align:'center',verticalAlign:'middle'});
  });
}
chart.setOption({graphic:G});
</script></body></html>
